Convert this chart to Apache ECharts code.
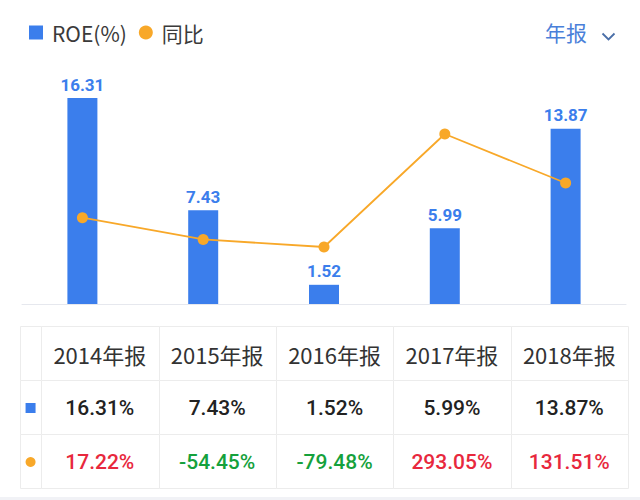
<!DOCTYPE html>
<html>
<head>
<meta charset="utf-8">
<script src="https://cdn.jsdelivr.net/npm/echarts@6/dist/echarts.min.js"></script>
<style>
html,body{margin:0;padding:0;background:#fff;}
#main{width:640px;height:500px;}
</style>
</head>
<body>
<div id="main"></div>
<script>
const categories = ['2014年报', '2015年报', '2016年报', '2017年报', '2018年报'];
const roe = [16.31, 7.43, 1.52, 5.99, 13.87];
const yoy = [17.22, -54.45, -79.48, 293.05, 131.51];
const seriesNames = ['ROE(%)', '同比'];
const periodLabel = '年报';

const BLUE = '#3b7eec';
const ORANGE = '#f8a829';
const RED = '#e8283d';
const GREEN = '#15a13c';
const GRID_LINE = '#ececec';

// table cells
const cells = [];
for (let r = 0; r < 3; r++) {
  for (let c = -1; c < categories.length; c++) {
    const cell = { x0: c < 0 ? -0.18 : c, x1: c < 0 ? 0 : c + 1, r: r, kind: 'text', text: '', color: '#333', font: '' };
    if (c < 0) {
      cell.kind = r === 1 ? 'square' : (r === 2 ? 'dot' : 'empty');
    } else if (r === 0) {
      cell.text = categories[c];
      cell.color = '#333333';
      cell.font = '400 22px "Noto Sans CJK SC", "Noto Sans", sans-serif';
    } else if (r === 1) {
      cell.text = roe[c].toFixed(2) + '%';
      cell.color = '#222222';
      cell.font = '500 21px Roboto, "Noto Sans", sans-serif';
    } else {
      cell.text = yoy[c].toFixed(2) + '%';
      cell.color = yoy[c] >= 0 ? RED : GREEN;
      cell.font = '500 21px Roboto, "Noto Sans", sans-serif';
    }
    cells.push(cell);
  }
}

const chart = echarts.init(document.getElementById('main'), null, { renderer: 'svg' });

const option = {
  animation: false,
  backgroundColor: '#ffffff',
  legend: {
    left: 24,
    top: 17,
    itemWidth: 14,
    itemHeight: 14,
    itemGap: 12,
    textStyle: { fontSize: 21, color: '#3a3a3a', fontFamily: '"Noto Sans CJK SC", "Noto Sans", sans-serif', padding: [0, 0, 0, 4] },
    data: [
      { name: seriesNames[0], icon: 'rect' },
      { name: seriesNames[1], icon: 'circle' }
    ]
  },
  grid: [
    { left: 22, right: 14, top: 98, bottom: 196 },
    { left: 20, right: 12, top: 326, bottom: 12 }
  ],
  xAxis: [
    {
      type: 'category', gridIndex: 0, data: categories,
      axisLine: { lineStyle: { color: '#e6e8ee' } },
      axisTick: { show: false }, axisLabel: { show: false }
    },
    { type: 'value', gridIndex: 1, min: -0.18, max: 5, show: false }
  ],
  yAxis: [
    { type: 'value', gridIndex: 0, min: 0, max: 16.31, show: false },
    { type: 'value', gridIndex: 0, min: -267.4, max: 411.8, show: false },
    { type: 'value', gridIndex: 1, min: 0, max: 3, inverse: true, show: false }
  ],
  series: [
    {
      name: seriesNames[0], type: 'bar', xAxisIndex: 0, yAxisIndex: 0,
      data: roe, barWidth: 30,
      itemStyle: { color: BLUE },
      label: {
        show: true, position: 'top', distance: 5,
        color: BLUE, fontSize: 17, fontWeight: 'bold', fontFamily: 'Roboto, sans-serif'
      }
    },
    {
      name: seriesNames[1], type: 'line', xAxisIndex: 0, yAxisIndex: 1,
      data: yoy, symbol: 'circle', symbolSize: 11,
      lineStyle: { color: ORANGE, width: 1.8 },
      itemStyle: { color: ORANGE }
    },
    {
      type: 'custom', xAxisIndex: 1, yAxisIndex: 2, clip: false, silent: true,
      data: cells.map(c => [(c.x0 + c.x1) / 2, c.r + 0.5]),
      renderItem: function (params, api) {
        const d = cells[params.dataIndex];
        const p0 = api.coord([d.x0, d.r]);
        const p1 = api.coord([d.x1, d.r + 1]);
        const x = Math.round(p0[0]) + 0.5, y = Math.round(p0[1]) + 0.5;
        const w = Math.round(p1[0]) - Math.round(p0[0]);
        const h = Math.round(p1[1]) - Math.round(p0[1]);
        const cx = (p0[0] + p1[0]) / 2, cy = (p0[1] + p1[1]) / 2;
        const children = [{
          type: 'rect', shape: { x: x, y: y, width: w, height: h },
          style: { fill: '#fff', stroke: GRID_LINE, lineWidth: 1 }
        }];
        if (d.kind === 'text') {
          children.push({
            type: 'text',
            style: {
              text: d.text, x: cx, y: cy + 1, fill: d.color, font: d.font,
              align: 'center', verticalAlign: 'middle',
              textAlign: 'center', textVerticalAlign: 'middle'
            }
          });
        } else if (d.kind === 'square') {
          children.push({ type: 'rect', shape: { x: cx - 5, y: cy - 4, width: 10, height: 10 }, style: { fill: BLUE } });
        } else if (d.kind === 'dot') {
          children.push({ type: 'circle', shape: { cx: cx, cy: cy + 1, r: 5 }, style: { fill: ORANGE } });
        }
        return { type: 'group', children: children };
      }
    }
  ],
  graphic: [
    {
      type: 'text', right: 53, top: 21,
      style: { text: periodLabel, fill: '#4a80d9', font: '400 21px "Noto Sans CJK SC", sans-serif' }
    },
    {
      type: 'polyline', left: 600, top: 31,
      shape: { points: [[0, 0], [6, 6], [12, 0]] },
      style: { stroke: '#4a6fa8', lineWidth: 1.8, fill: null }
    },
    {
      type: 'rect', left: 0, top: 497,
      shape: { width: 640, height: 3 },
      style: { fill: '#f1f2f6' }
    }
  ]
};
chart.setOption(option);
</script>
</body>
</html>
